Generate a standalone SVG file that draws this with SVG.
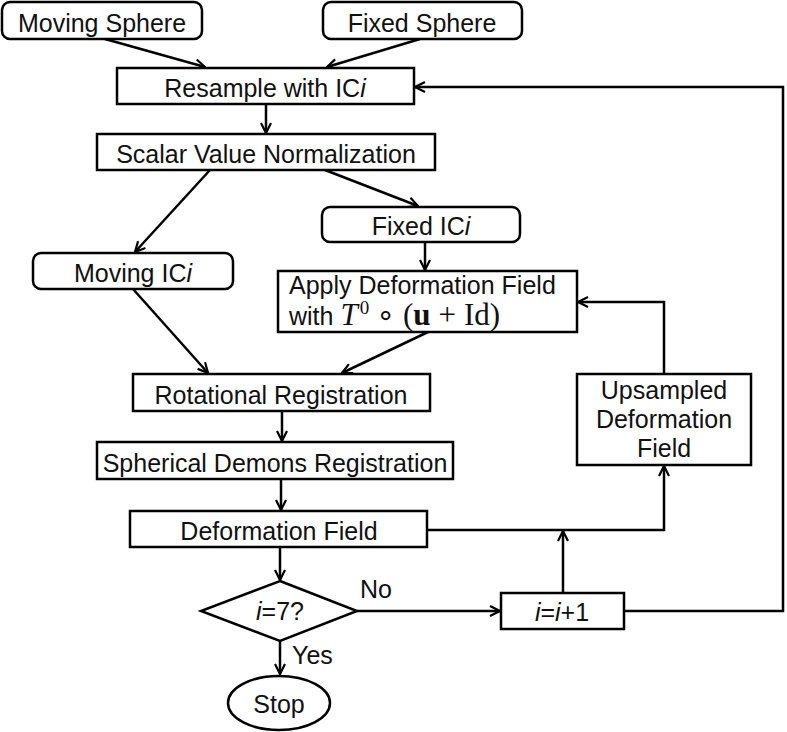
<svg xmlns="http://www.w3.org/2000/svg" width="787" height="732" viewBox="0 0 787 732">
<style>
.box{fill:#fff;stroke:#000;stroke-width:2.5}
.t{font-family:"Liberation Sans",Arial,sans-serif;font-size:25px;fill:#111;text-anchor:middle}
.tl{font-family:"Liberation Sans",Arial,sans-serif;font-size:25px;fill:#111}
.m{font-family:"Liberation Serif","DejaVu Serif",serif;font-size:31px;fill:#111}
.o{font-family:"DejaVu Sans",sans-serif;font-size:30px;fill:#111}
.sup{font-family:"Liberation Serif","DejaVu Serif",serif;font-size:19px;fill:#111}
.c{fill:none;stroke:#000;stroke-width:2.5}
</style>
<defs>
<marker id="ah" viewBox="0 0 12 12" refX="11" refY="6" markerWidth="12" markerHeight="12" markerUnits="userSpaceOnUse" orient="auto">
<path d="M1,1 L11,6 L1,11" fill="none" stroke="#000" stroke-width="2.2"/>
</marker>
</defs>
<rect width="787" height="732" fill="#fff"/>
<g id="connectors">
<line class="c" x1="105" y1="39" x2="205" y2="67" marker-end="url(#ah)"/>
<line class="c" x1="420" y1="39" x2="327" y2="67" marker-end="url(#ah)"/>
<line class="c" x1="266" y1="104" x2="266" y2="133" marker-end="url(#ah)"/>
<line class="c" x1="210" y1="170" x2="135" y2="252" marker-end="url(#ah)"/>
<line class="c" x1="325" y1="170" x2="418" y2="206" marker-end="url(#ah)"/>
<line class="c" x1="425" y1="242" x2="425" y2="270" marker-end="url(#ah)"/>
<line class="c" x1="133" y1="289" x2="208" y2="373" marker-end="url(#ah)"/>
<line class="c" x1="428" y1="332" x2="342" y2="373" marker-end="url(#ah)"/>
<line class="c" x1="282" y1="411" x2="282" y2="441" marker-end="url(#ah)"/>
<line class="c" x1="281" y1="479" x2="281" y2="510" marker-end="url(#ah)"/>
<line class="c" x1="280" y1="547" x2="280" y2="580" marker-end="url(#ah)"/>
<line class="c" x1="280" y1="641" x2="280" y2="674" marker-end="url(#ah)"/>
<line class="c" x1="357" y1="611" x2="500" y2="611" marker-end="url(#ah)"/>
<line class="c" x1="563" y1="593" x2="563" y2="531" marker-end="url(#ah)"/>
<polyline class="c" points="427,530 664,530 664,466" marker-end="url(#ah)"/>
<polyline class="c" points="664,374 664,302 578,302" marker-end="url(#ah)"/>
<polyline class="c" points="624,611 783,611 783,87 415,87" marker-end="url(#ah)"/>
<text class="tl" x="360" y="598">No</text>
<text class="tl" x="292" y="664">Yes</text>
</g>
<g id="moving-sphere">
<rect class="box" x="2" y="2" width="200" height="37" rx="8"/>
<text class="t" x="102" y="32">Moving Sphere</text>
</g>
<g id="fixed-sphere">
<rect class="box" x="323" y="2" width="199" height="37" rx="8"/>
<text class="t" x="422" y="32">Fixed Sphere</text>
</g>
<g id="resample">
<rect class="box" x="117" y="68" width="297" height="36"/>
<text class="t" x="265" y="97">Resample with IC<tspan font-style="italic">i</tspan></text>
</g>
<g id="scalar-norm">
<rect class="box" x="97" y="134" width="338" height="36"/>
<text class="t" x="266" y="163">Scalar Value Normalization</text>
</g>
<g id="fixed-ici">
<rect class="box" x="322" y="207" width="198" height="35" rx="8"/>
<text class="t" x="421" y="235">Fixed IC<tspan font-style="italic">i</tspan></text>
</g>
<g id="moving-ici">
<rect class="box" x="33" y="253" width="200" height="36" rx="8"/>
<text class="t" x="133" y="282">Moving IC<tspan font-style="italic">i</tspan></text>
</g>
<g id="apply-deformation">
<rect class="box" x="278" y="271" width="299" height="61"/>
<text class="tl" x="289" y="294">Apply Deformation Field</text>
<text class="tl" x="289" y="325">with <tspan class="m" font-style="italic">T</tspan><tspan class="sup" dx="2" dy="-11">0</tspan><tspan class="o" dx="7" dy="11">∘</tspan><tspan class="m" dx="8">(</tspan><tspan class="m" font-weight="bold">u</tspan><tspan class="m" dx="8">+</tspan><tspan class="m" dx="8">Id)</tspan></text>
</g>
<g id="rotational">
<rect class="box" x="133" y="374" width="297" height="37"/>
<text class="t" x="281" y="404">Rotational Registration</text>
</g>
<g id="spherical-demons">
<rect class="box" x="97" y="442" width="356" height="37"/>
<text class="t" x="275" y="472">Spherical Demons Registration</text>
</g>
<g id="deformation-field">
<rect class="box" x="130" y="511" width="297" height="36"/>
<text class="t" x="279" y="540">Deformation Field</text>
</g>
<g id="decision">
<polygon class="box" points="280,581 357,611 280,641 201,611"/>
<text class="t" x="280" y="620"><tspan font-style="italic">i</tspan>=7?</text>
</g>
<g id="increment">
<rect class="box" x="501" y="593" width="123" height="36"/>
<text class="t" x="562" y="621"><tspan font-style="italic">i</tspan>=<tspan font-style="italic">i</tspan>+1</text>
</g>
<g id="upsampled">
<rect class="box" x="577" y="374" width="174" height="91"/>
<text class="t" x="664" y="399">Upsampled</text>
<text class="t" x="664" y="428">Deformation</text>
<text class="t" x="664" y="457">Field</text>
</g>
<g id="stop">
<ellipse class="box" cx="279" cy="703" rx="51" ry="27"/>
<text class="t" x="279" y="713">Stop</text>
</g>
</svg>
